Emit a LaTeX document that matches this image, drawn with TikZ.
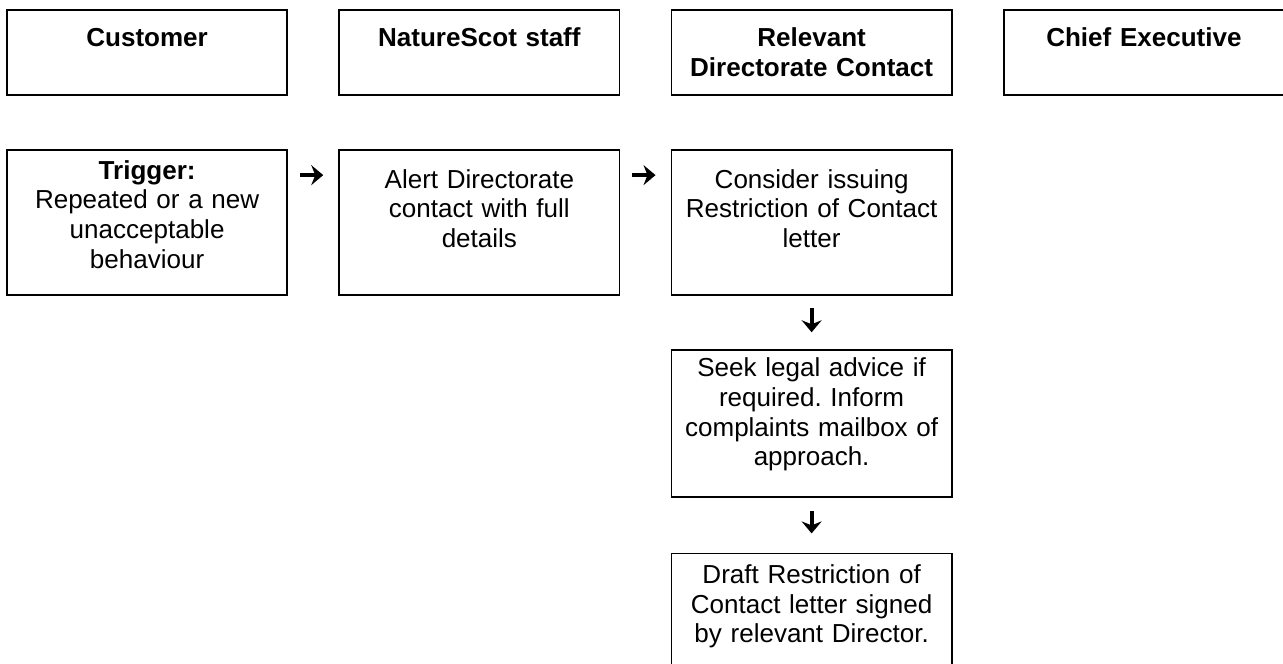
\documentclass[tikz,border=0pt]{standalone}
\usepackage{fontspec}
\setmainfont{Liberation Sans}
\usepackage{tikz}
\usetikzlibrary{arrows.meta, positioning}
\frenchspacing

\begin{document}
\begin{tikzpicture}[
    node distance=27.5pt and 26pt,
    box/.style={rectangle, draw, line width=0.9pt, outer sep=0pt, inner xsep=4pt, inner ysep=0pt, minimum width=140pt, text width=132pt, align=center, anchor=north, font=\fontsize{13}{14.8}\selectfont},
    head/.style={box, font=\fontsize{13}{15}\selectfont\bfseries, text height=18pt, text depth=24.5pt},
    stage/.style={box, text height=19pt, text depth=53.5pt},
    arrow/.style={-{Stealth[length=6pt, width=10pt, inset=2pt]}, line width=2pt}
]
    \clip (0,0) rectangle (641pt,-331.25pt);
    % swimlane headings
    \node[head, anchor=north west] (customer) at (3.5pt,-5pt) {Customer};
    \node[head, right=of customer] (staff) {NatureScot staff};
    \node[head, right=of staff] (contact) {Relevant\\Directorate Contact};
    \node[head, right=of contact] (chief) {Chief Executive};

    % process
    \node[stage, below=of customer, text height=14.5pt, text depth=58pt] (trigger) {\textbf{Trigger:}\\Repeated or a new\\unacceptable\\behaviour};
    \node[stage, below=of staff] (alert) {Alert Directorate\\contact with full\\details};
    \node[stage, below=of contact] (consider) {Consider issuing\\Restriction of Contact\\letter};
    \node[box, below=of consider, text height=13.3pt, text depth=60.2pt] (advice) {Seek legal advice if\\required. Inform\\complaints mailbox of\\approach.};
    \node[box, below=28pt of advice, text height=15pt, text depth=57.5pt] (draft) {Draft Restriction of\\Contact letter signed\\by relevant Director.};

    \draw[arrow, shorten <=6.5pt, shorten >=8pt] ([yshift=-12.5pt]trigger.north east) -- ([yshift=-12.5pt]alert.north west);
    \draw[arrow, shorten <=6.5pt, shorten >=8pt] ([yshift=-12.5pt]alert.north east) -- ([yshift=-12.5pt]consider.north west);
    \draw[arrow, shorten <=6.5pt, shorten >=9pt] (consider) -- (advice);
    \draw[arrow, shorten <=7pt, shorten >=10pt] (advice) -- (draft);
\end{tikzpicture}
\end{document}
